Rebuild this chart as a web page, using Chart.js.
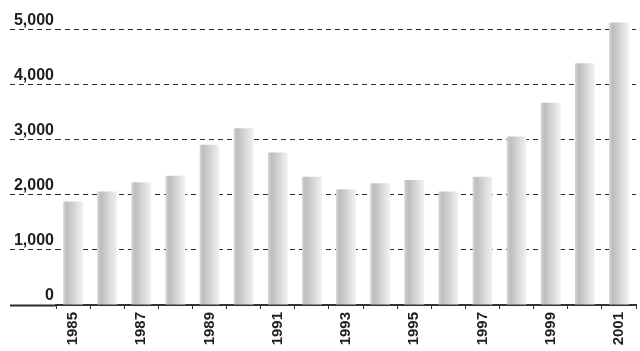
<!DOCTYPE html>
<html>
  <head>
    <title>Bars 1985-2001</title>
    <style>
      body { margin: 0; background: #fff; }
      #wrap { width: 640px; height: 351px; }
    </style>
    <script src="https://cdn.jsdelivr.net/npm/chart.js"></script>
  </head>
  <body>
    <div id="wrap"><canvas id="myChart"></canvas></div>
    <script>
      const years = ['1985', '1986', '1987', '1988', '1989', '1990', '1991', '1992', '1993',
                     '1994', '1995', '1996', '1997', '1998', '1999', '2000', '2001'];
      const values = [1880, 2060, 2230, 2345, 2910, 3210, 2770, 2330, 2100,
                      2210, 2270, 2060, 2330, 3060, 3670, 4390, 5130];
      const yTicks = [0, 1000, 2000, 3000, 4000, 5000];

      const barPct = 0.58;

      // cylinder-ish shading, one horizontal gradient per bar
      function barFill(ctx) {
        const chart = ctx.chart;
        const xs = chart.scales.x;
        if (!chart.chartArea || !xs || ctx.dataIndex === undefined) return '#d0d0d0';
        const cx = xs.getPixelForValue(ctx.dataIndex);
        const w = (chart.chartArea.width / years.length) * barPct;
        const g = chart.ctx.createLinearGradient(cx - w / 2, 0, cx + w / 2, 0);
        g.addColorStop(0, '#d6d6d6');
        g.addColorStop(0.18, '#bdbdbd');
        g.addColorStop(0.5, '#d2d2d2');
        g.addColorStop(1, '#f2f2f2');
        return g;
      }

      const ctx = document.getElementById('myChart').getContext('2d');
      new Chart(ctx, {
        type: 'bar',
        data: {
          labels: years,
          datasets: [{
            data: values,
            backgroundColor: barFill,
            borderWidth: 0,
            barPercentage: barPct,
            categoryPercentage: 1
          }]
        },
        options: {
          responsive: true,
          maintainAspectRatio: false,
          animation: false,
          layout: { padding: { top: 2, right: 0, left: 0, bottom: 0 } },
          plugins: { legend: { display: false }, tooltip: { enabled: false } },
          scales: {
            x: {
              grid: { display: true, drawOnChartArea: false, tickLength: 4, color: '#333' },
              border: { display: true, color: '#333', width: 2 },
              ticks: {
                autoSkip: false,
                minRotation: 90,
                maxRotation: 90,
                padding: 3,
                color: '#1e1e1e',
                font: { family: 'Liberation Sans, Arial, sans-serif', size: 15, weight: 'bold' },
                callback: (v, i) => (i % 2 === 0 ? years[i] : '')
              },
              afterFit: s => { s.height = 46; }
            },
            y: {
              min: 0,
              max: 5500,
              afterBuildTicks: s => { s.ticks = yTicks.map(v => ({ value: v })); },
              afterFit: s => { s.width = 56; },
              grid: {
                color: '#2a2a2a',
                lineWidth: 1,
                tickLength: 46,
                tickColor: '#2a2a2a',
                tickBorderDash: c => (c.tick && c.tick.value === 0 ? [] : [5, 4]),
                tickWidth: c => (c.tick && c.tick.value === 0 ? 2 : 1)
              },
              border: { display: false, dash: [5, 4] },
              ticks: {
                padding: -44,
                labelOffset: -9,
                color: '#1e1e1e',
                font: { family: 'Liberation Sans, Arial, sans-serif', size: 16, weight: 'bold' },
                callback: v => v.toLocaleString('en-US')
              }
            }
          }
        }
      });
    </script>
  </body>
</html>
